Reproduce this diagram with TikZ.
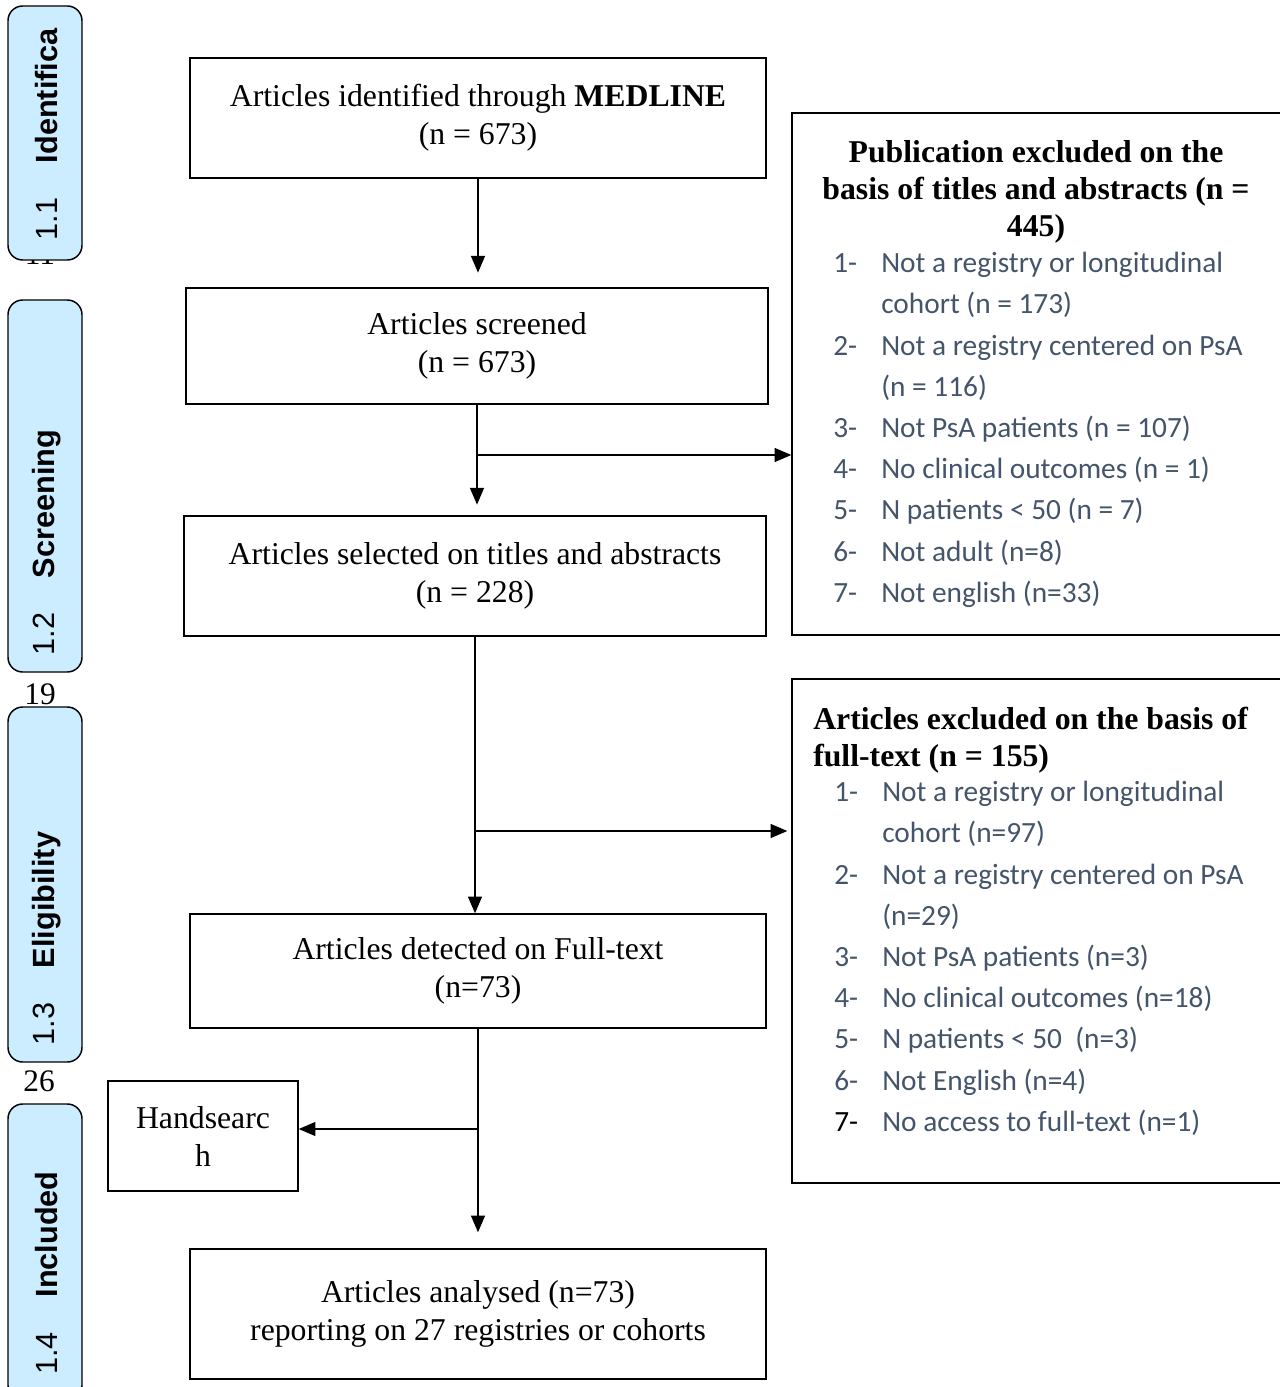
\documentclass[tikz,border=0pt]{standalone}
\usepackage{fontspec}
\setmainfont{Liberation Serif}
\newfontfamily\listfont{Carlito}
\newfontfamily\stagefont{Liberation Sans}
\usetikzlibrary{arrows.meta,calc}
\definecolor{stageblue}{HTML}{CCECFF}
\definecolor{itemgray}{HTML}{44546A}
\newcommand\nitem[1]{\makebox[36pt][l]{#1}}
\newcommand\nskip{\hspace*{36pt}}

\begin{document}
\begin{tikzpicture}
[x=0.75pt, y=-0.75pt,
box/.style={draw, line width=1.1pt, align=center, inner sep=0pt, font=\fontsize{23.8}{28.5}\selectfont},
stage/.style={draw, line width=1.1pt, fill=stageblue, rounded corners=11pt, minimum width=55.5pt, inner sep=0pt},
stagelabel/.style={rotate=90, anchor=west, inner sep=0pt, font=\stagefont\fontsize{23}{26}\selectfont},
items/.style={anchor=north west, align=left, inner sep=0pt, text=itemgray, font=\listfont\fontsize{22}{30.9}\selectfont},
lineno/.style={inner sep=0pt, font=\fontsize{23.5}{26}\selectfont},
arr/.style={-{Triangle[length=12.5pt,width=10.5pt]}, line width=0.9pt}]

\useasboundingbox (0,0) rectangle (1280,1387);

% line numbers of the page
\node (ln11) at (40,254) [lineno] {11};
\node (ln19) at (40,694) [lineno] {19};
\node (ln26) at (39,1081) [lineno] {26};

% stages
\node (s1) at (45,133) [stage, minimum height=190.5pt] {};
\node (s2) at (45,486) [stage, minimum height=279pt] {};
\node (s3) at (45,884.5) [stage, minimum height=266.25pt] {};
\node (s4) at (45,1252) [stage, minimum height=222pt] {};
\node (s1t) at ($(s1.south)+(2,-20)$) [stagelabel] {1.1\hspace{26pt}\textbf{Identifica}};
\node (s2t) at ($(s2.south)+(2,-17)$) [stagelabel] {1.2\hspace{26pt}\textbf{Screening}};
\node (s3t) at ($(s3.south)+(2,-17)$) [stagelabel] {1.3\hspace{26pt}\textbf{Eligibility}};
\node (s4t) at (47,1375) [stagelabel] {1.4\hspace{26pt}\textbf{Included}};

% main boxes
\node (b1) at (478,118) [box, minimum width=432pt, minimum height=90pt] {Articles identified through \textbf{MEDLINE}\\(n = 673)};
\node (b2) at (477,346) [box, minimum width=436.5pt, minimum height=87pt] {Articles screened\\(n = 673)};
\node (b3) at (475,576) [box, minimum width=436.5pt, minimum height=90pt] {Articles selected on titles and abstracts\\(n = 228)};
\node (b4) at (478,971) [box, minimum width=432pt, minimum height=85.5pt] {Articles detected on Full-text\\(n=73)};
\node (b5) at (478,1314) [box, minimum width=432pt, minimum height=97.5pt] {Articles analysed (n=73)\\reporting on 27 registries or cohorts};
\node (hand) at (203,1136) [box, minimum width=142.5pt, minimum height=82.5pt] {Handsearc\\h};

% exclusion boxes
\node (ex1) at (1041,374) [draw, line width=1.1pt, minimum width=373.5pt, minimum height=391.5pt] {};
\node (ex1h) at (1036,192) [align=center, inner sep=0pt, font=\bfseries\fontsize{23.8}{27.75}\selectfont] {Publication excluded on the\\basis of titles and abstracts (n =\\445)};
\node (ex1l) at (833,252) [items] {\nitem{1-}Not a registry or longitudinal\\\nskip cohort (n = 173)\\\nitem{2-}Not a registry centered on PsA\\\nskip (n = 116)\\\nitem{3-}Not PsA patients (n = 107)\\\nitem{4-}No clinical outcomes (n = 1)\\\nitem{5-}N patients < 50 (n = 7)\\\nitem{6-}Not adult (n=8)\\\nitem{7-}Not english (n=33)};

\node (ex2) at (1041,931) [draw, line width=1.1pt, minimum width=373.5pt, minimum height=378pt] {};
\node (ex2h) at (813,707) [anchor=north west, align=left, inner sep=0pt, font=\bfseries\fontsize{23.8}{27.75}\selectfont] {Articles excluded on the basis of\\full-text (n = 155)};
\node (ex2l) at (834,781) [items] {\nitem{1-}Not a registry or longitudinal\\\nskip cohort (n=97)\\\nitem{2-}Not a registry centered on PsA\\\nskip (n=29)\\\nitem{3-}Not PsA patients (n=3)\\\nitem{4-}No clinical outcomes (n=18)\\\nitem{5-}N patients < 50\ \ (n=3)\\\nitem{6-}Not English (n=4)\\\nitem{\textcolor{black}{7-}}No access to full-text (n=1)};

% flow
\coordinate (j1) at (478,455);
\coordinate (j2) at (475,831);
\coordinate (j3) at (478,1129);
\draw [arr, shorten >=11pt] (b1.south) -- (b1.south |- b2.north);
\draw [arr, shorten >=8pt] (b2.south) -- (b2.south |- b3.north);
\draw [arr] (j1) -- (j1 -| ex1.west);
\draw [arr] (b3.south) -- (b3.south |- b4.north);
\draw [arr, shorten >=3pt] (j2) -- (j2 -| ex2.west);
\draw [arr, shorten >=12pt] (b4.south) -- (b4.south |- b5.north);
\draw [arr] (j3) -- (j3 -| hand.east);
\end{tikzpicture}
\end{document}
